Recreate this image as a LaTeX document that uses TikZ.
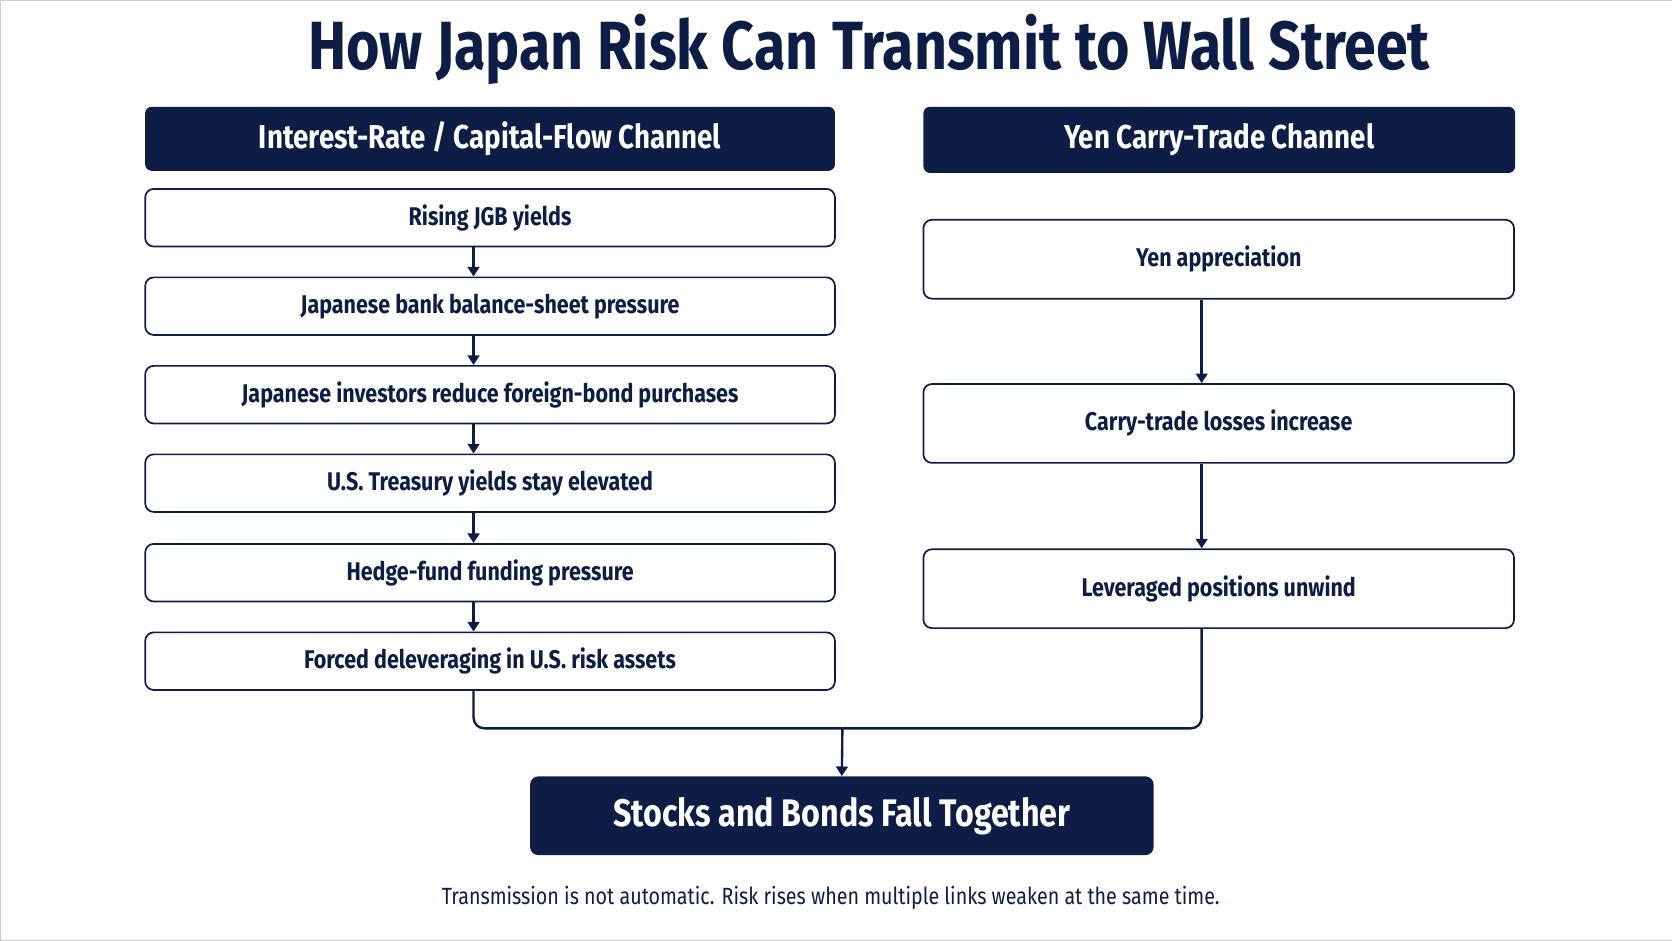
\documentclass[tikz,border=0pt]{standalone}
\usepackage{fontspec}
\setmainfont{Fira Sans}[FakeStretch=0.84]
\usetikzlibrary{arrows.meta}
\definecolor{navy}{HTML}{0E1D45}
\begin{document}
\begin{tikzpicture}[x=1pt,y=-1pt,
  hdr/.style={fill=navy,rounded corners=6pt,text=white,font=\fontsize{31}{36}\selectfont\bfseries,inner sep=0},
  lbox/.style={draw=navy,line width=1.6pt,rounded corners=8pt,fill=white,text=navy,font=\fontsize{24}{28}\selectfont\bfseries,inner sep=0},
  arr/.style={draw=navy,line width=2.2pt,-{Triangle[length=9pt,width=11pt]}},
  ln/.style={draw=navy,line width=2.2pt,rounded corners=10pt}]
\path[fill=white,draw=gray!40] (0,0) rectangle (1568,882);
\node[text=navy,font=\fontsize{64}{70}\selectfont\bfseries] (title) at (815,46) {How Japan Risk Can Transmit to Wall Street};
\node[hdr,minimum width=647pt,minimum height=60pt] (lh) at (459.5,130) {Interest-Rate / Capital-Flow Channel};
\node[hdr,minimum width=555pt,minimum height=62pt] (rh) at (1143.5,131) {Yen Carry-Trade Channel};
\foreach \n/\y/\t in {l1/204/Rising JGB yields, l2/287/Japanese bank balance-sheet pressure, l3/370/Japanese investors reduce foreign-bond purchases, l4/453/U.S. Treasury yields stay elevated, l5/537/Hedge-fund funding pressure, l6/620/Forced deleveraging in U.S. risk assets}
  \node[lbox,minimum width=647pt,minimum height=54pt] (\n) at (459.5,\y) {\t};
\foreach \n/\y/\t in {r1/243/Yen appreciation, r2/397/Carry-trade losses increase, r3/552/Leveraged positions unwind}
  \node[lbox,minimum width=554pt,minimum height=74pt] (\n) at (1143,\y) {\t};
\node[fill=navy,rounded corners=8pt,text=white,font=\fontsize{36}{40}\selectfont\bfseries,minimum width=585pt,minimum height=74pt] (out) at (789.5,765) {Stocks and Bonds Fall Together};
\node[text=navy,font=\fontsize{22}{26}\selectfont] (note) at (779,842) {Transmission is not automatic. Risk rises when multiple links weaken at the same time.};
\foreach \a/\b in {l1/l2,l2/l3,l3/l4,l4/l5,l5/l6}
  \draw[arr] ([xshift=-15.5pt]\a.south) -- ([xshift=-15.5pt]\b.north);
\draw[arr] ([xshift=-16pt]r1.south) -- ([xshift=-16pt]r2.north);
\draw[arr] ([xshift=-16pt]r2.south) -- ([xshift=-16pt]r3.north);
\coordinate (m) at (790,683);
\draw[ln] ([xshift=-15.5pt]l6.south) |- (m);
\draw[ln] ([xshift=-16pt]r3.south) |- (m);
\draw[arr] (m) -- (out.north);
\end{tikzpicture}
\end{document}
